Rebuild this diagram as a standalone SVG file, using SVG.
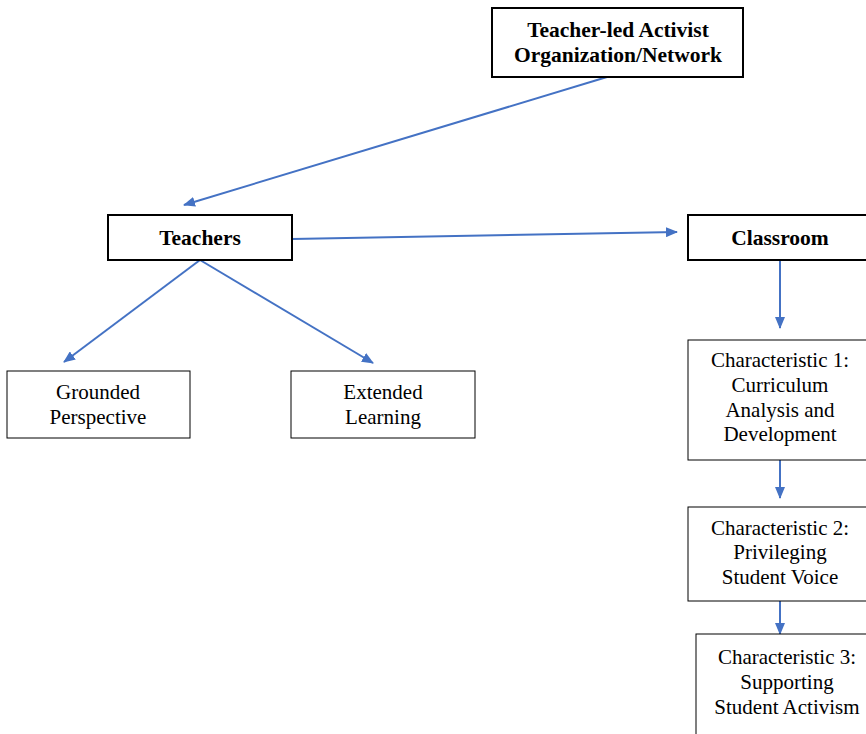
<svg xmlns="http://www.w3.org/2000/svg" width="866" height="734" viewBox="0 0 866 734">
<style>
.b{fill:#fff;stroke:#000;stroke-width:2}
.t{fill:#fff;stroke:#000;stroke-width:1}
text{font-family:"Liberation Serif","Times New Roman",serif;font-size:21px;fill:#000;text-anchor:middle}
.bt{font-weight:bold;font-size:21.5px}
.c{stroke:#4472C4;stroke-width:2;fill:none;marker-end:url(#a)}
</style>
<defs>
<marker id="a" viewBox="0 0 12 10" refX="11" refY="5" markerWidth="12" markerHeight="10" markerUnits="userSpaceOnUse" orient="auto">
<path d="M0,0 L12,5 L0,10 Z" fill="#4472C4"/>
</marker>
</defs>
<g id="connectors">
<line class="c" x1="607" y1="77" x2="184" y2="205"/>
<line class="c" x1="292" y1="239" x2="677" y2="232"/>
<line class="c" x1="200" y1="260" x2="64" y2="362"/>
<line class="c" x1="200" y1="260" x2="373" y2="363"/>
<line class="c" x1="780" y1="260" x2="780" y2="328"/>
<line class="c" x1="780" y1="460" x2="780" y2="498"/>
<line class="c" x1="780" y1="601" x2="780" y2="634"/>
</g>
<g id="n-org">
<rect class="b" x="492" y="8" width="251" height="69"/>
<text class="bt" x="618" y="37">Teacher-led Activist</text>
<text class="bt" x="618" y="62">Organization/Network</text>
</g>
<g id="n-teachers">
<rect class="b" x="108" y="215" width="184" height="45"/>
<text class="bt" x="200" y="245">Teachers</text>
</g>
<g id="n-classroom">
<rect class="b" x="688" y="215" width="190" height="45"/>
<text class="bt" x="780" y="245">Classroom</text>
</g>
<g id="n-grounded">
<rect class="t" x="7" y="371" width="183" height="67"/>
<text x="98" y="399">Grounded</text>
<text x="98" y="424">Perspective</text>
</g>
<g id="n-extended">
<rect class="t" x="291" y="371" width="184" height="67"/>
<text x="383" y="399">Extended</text>
<text x="383" y="424">Learning</text>
</g>
<g id="n-char1">
<rect class="t" x="688" y="340" width="190" height="120"/>
<text x="780" y="367">Characteristic 1:</text>
<text x="780" y="392">Curriculum</text>
<text x="780" y="417">Analysis and</text>
<text x="780" y="441">Development</text>
</g>
<g id="n-char2">
<rect class="t" x="688" y="507" width="190" height="94"/>
<text x="780" y="535">Characteristic 2:</text>
<text x="780" y="559">Privileging</text>
<text x="780" y="584">Student Voice</text>
</g>
<g id="n-char3">
<rect class="t" x="696" y="634" width="190" height="110"/>
<text x="787" y="664">Characteristic 3:</text>
<text x="787" y="689">Supporting</text>
<text x="787" y="714">Student Activism</text>
</g>
</svg>
